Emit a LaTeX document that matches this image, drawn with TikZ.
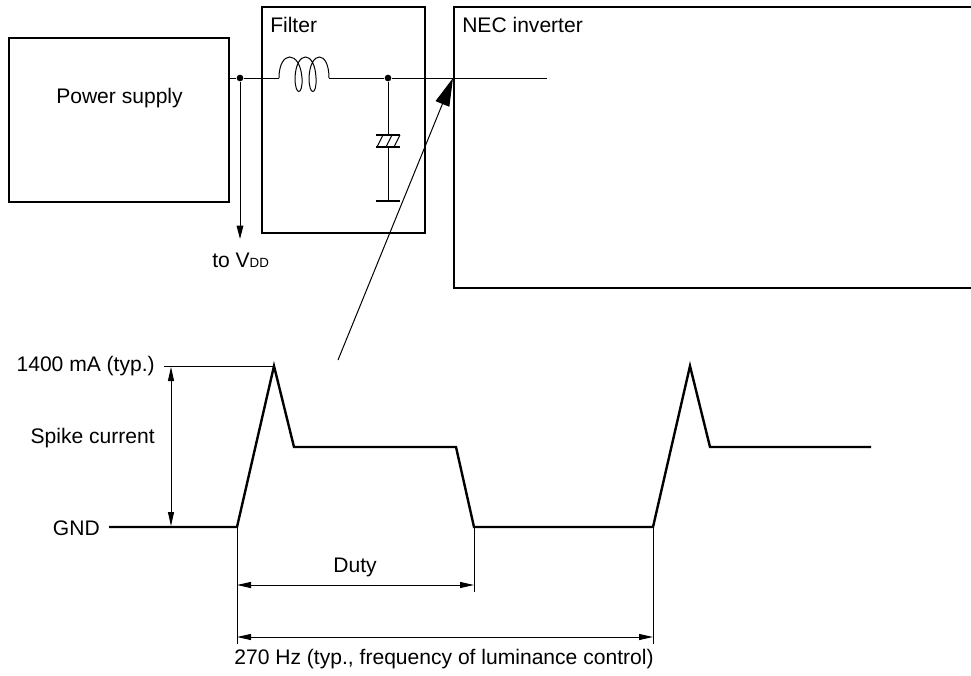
\documentclass[tikz,border=0pt]{standalone}
\usepackage{fontspec}
\setmainfont{Liberation Sans}
\usetikzlibrary{arrows.meta,calc,positioning}
\tikzset{
    blockbox/.style={draw, line width=1.9pt, inner sep=0pt, outer sep=0pt},
    label/.style={inner sep=0pt, font=\fontsize{15.8}{18}\selectfont},
    junction/.style={circle, fill=black, inner sep=0pt, minimum size=5pt},
    wire/.style={line width=0.75pt},
    trace/.style={line width=1.8pt, line join=miter},
    plate/.style={line width=1.5pt},
    dimline/.style={line width=0.75pt, {Stealth[length=10.5pt,width=4.5pt,inset=0pt]}-{Stealth[length=10.5pt,width=4.5pt,inset=0pt]}},
}
\begin{document}
\begin{tikzpicture}[x=0.75pt, y=-0.75pt]
    \useasboundingbox (0,0) rectangle (971,675);
    % blocks
    \node[blockbox, minimum width=165pt, minimum height=123pt] (psu) at (119.2,120) {};
    \node[blockbox, minimum width=122.25pt, minimum height=169.5pt] (filter) at (343.5,120) {};
    \coordinate (nectop) at (971,7);
    \coordinate (necbot) at (971,288);
    \draw[line width=1.9pt] (nectop) -| (454,288) -- (necbot);
    \node[label] (psutext) at (119.5,98) {Power supply};
    \node[label, anchor=west] (filtertext) at (270,25) {Filter};
    \node[label, anchor=west] (nectext) at (462,25) {NEC inverter};
    % supply line
    \coordinate (psuout) at (229,78);
    \coordinate (coilin) at (279,78);
    \coordinate (coilout) at (329,78);
    \coordinate (lineend) at (547,78);
    \coordinate (vddend) at (240,239);
    \node[junction] (nodea) at (240,78) {};
    \node[junction] (nodeb) at (388,78) {};
    \node[label, anchor=west] (vddtext) at (212,260) {to V{\fontsize{10}{12}\selectfont DD}};
    \draw[wire] (psuout) -- (nodea) -- (coilin);
    \draw[wire] (coilin) .. controls (279,50) and (300,50) .. (302,78)
        .. controls (303,96) and (295,96) .. (295,78)
        .. controls (296,50) and (315,50) .. (316,78)
        .. controls (317,96) and (309,96) .. (309,78)
        .. controls (310,50) and (329,50) .. (coilout);
    \draw[wire] (coilout) -- (nodeb) -- (lineend);
    \draw[wire, -{Stealth[length=10pt,width=5pt,inset=0pt]}] (nodea) -- (vddend);
    % capacitor
    \coordinate (capa) at (388,135);
    \coordinate (capb) at (388,147);
    \coordinate (capgnd) at (388,201);
    \draw[wire] (nodeb) -- (capa);
    \draw[wire] (capb) -- (capgnd);
    \draw[plate] ($(capa)+(-12,0)$) -- ($(capa)+(12,0)$);
    \draw[plate] ($(capb)+(-12,0)$) -- ($(capb)+(12,0)$);
    \draw[plate] ($(capgnd)+(-12,0)$) -- ($(capgnd)+(12,0)$);
    \foreach \dx in {-8,1,9}
        \draw[wire] ($(capb)+(\dx-3,0)$) -- ($(capa)+(\dx+3,0)$);
    % pointer from waveform
    \coordinate (pointfrom) at (338,360);
    \coordinate (pointto) at (453,78);
    \draw[wire, -{Stealth[length=21pt,width=11pt,inset=0pt]}] (pointfrom) -- (pointto);
    % waveform
    \coordinate (gndstart) at (109,527);
    \coordinate (riseone) at (237,527);
    \coordinate (peakone) at (274,366);
    \coordinate (fallone) at (474,527);
    \coordinate (risetwo) at (653,527);
    \draw[trace] (gndstart) -- (riseone) -- (peakone) -- (294,447) -- (456,447) -- (fallone)
        -- (risetwo) -- (690,366) -- (710,447) -- (871,447);
    \coordinate (peaktick) at (164,366);
    \draw[wire] (peaktick) -- (peakone);
    \draw[dimline] (171,367) -- (171,526);
    \node[label, anchor=east] (peaktext) at (155,366) {1400 mA (typ.)};
    \node[label, anchor=east] (spiketext) at (155,438) {Spike current};
    \node[label, anchor=east] (gndtext) at (100,528) {GND};
    % timing
    \coordinate (dutytick) at (474,592);
    \coordinate (freqtick) at (237,644);
    \coordinate (freqtickb) at (653,644);
    \draw[wire] (riseone) -- (freqtick);
    \draw[wire] (fallone) -- (dutytick);
    \draw[wire] (risetwo) -- (freqtickb);
    \draw[dimline] (237,585) -- (474,585);
    \draw[dimline] (237,637) -- (653,637);
    \node[label] (dutytext) at (355,567) {Duty};
    \node[label] (freqtext) at (444,659) {270 Hz (typ., frequency of luminance control)};
\end{tikzpicture}
\end{document}
